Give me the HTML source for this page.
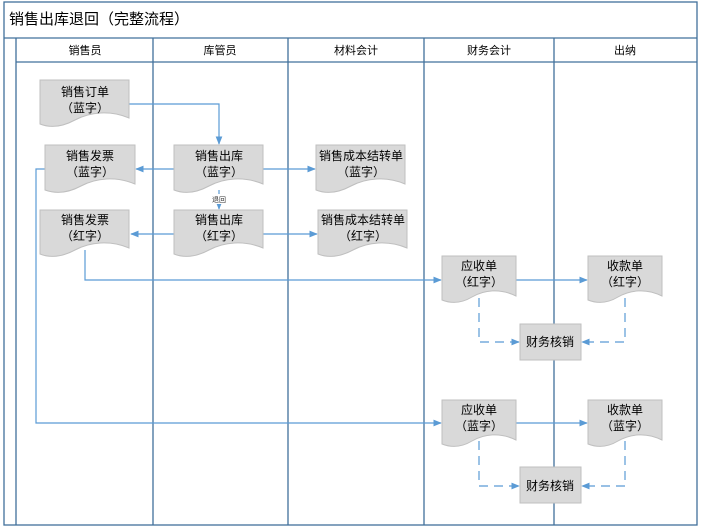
<!DOCTYPE html>
<html><head><meta charset="utf-8"><style>
html,body{margin:0;padding:0;background:#fff;}
svg{display:block;font-family:"Liberation Sans","Noto Sans CJK SC",sans-serif;}
</style></head><body>
<svg width="701" height="531" viewBox="0 0 701 531" xmlns="http://www.w3.org/2000/svg">
<defs>
<marker id="a" viewBox="0 0 10 10" refX="9" refY="5" markerWidth="7" markerHeight="7" orient="auto"><path d="M0,1 L10,5 L0,9 Z" fill="#5b9bd5"/></marker>
</defs>
<rect x="0" y="0" width="701" height="531" fill="#fff"/>
<!-- outer frame -->
<rect x="4" y="2" width="693" height="523" fill="none" stroke="#41719c" stroke-width="1.3"/>
<line x1="4" y1="38" x2="697" y2="38" stroke="#41719c" stroke-width="1.3"/>
<text x="9" y="24" font-size="15" fill="#000">销售出库退回（完整流程）</text>
<line x1="16" y1="38" x2="16" y2="525" stroke="#41719c" stroke-width="1.3"/>
<line x1="16" y1="62" x2="697" y2="62" stroke="#41719c" stroke-width="1.3"/>
<g stroke="#41719c" stroke-width="1.3">
<line x1="153" y1="38" x2="153" y2="525"/>
<line x1="288" y1="38" x2="288" y2="525"/>
<line x1="424" y1="38" x2="424" y2="525"/>
<line x1="554" y1="38" x2="554" y2="525"/>
</g>
<g font-size="11" text-anchor="middle" fill="#000">
<text x="85" y="54">销售员</text>
<text x="220" y="54">库管员</text>
<text x="356" y="54">材料会计</text>
<text x="489" y="54">财务会计</text>
<text x="625" y="54">出纳</text>
</g>
<!-- connectors -->
<g fill="none" stroke="#5b9bd5" stroke-width="1.2">
<polyline points="129,104 219,104 219,144" marker-end="url(#a)"/>
<line x1="174" y1="169" x2="136" y2="169" marker-end="url(#a)"/>
<line x1="263" y1="169" x2="315" y2="169" marker-end="url(#a)"/>
<line x1="219" y1="190" x2="219" y2="209" marker-end="url(#a)"/>
<line x1="174" y1="234" x2="131" y2="234" marker-end="url(#a)"/>
<line x1="263" y1="234" x2="317" y2="234" marker-end="url(#a)"/>
<polyline points="85,250 85,280 441,280" marker-end="url(#a)"/>
<line x1="516" y1="280" x2="587" y2="280" marker-end="url(#a)"/>
<polyline points="45,169 36,169 36,423 441,423" marker-end="url(#a)"/>
<line x1="516" y1="423" x2="587" y2="423" marker-end="url(#a)"/>
<g stroke-dasharray="9,6">
<polyline points="479,298 479,342 519,342" marker-end="url(#a)"/>
<polyline points="625,298 625,342 582,342" marker-end="url(#a)"/>
<polyline points="479,441 479,486 519,486" marker-end="url(#a)"/>
<polyline points="625,441 625,486 582,486" marker-end="url(#a)"/>
</g>
</g>
<rect x="210" y="194" width="18" height="10" fill="#fff"/>
<text x="219" y="202" font-size="7" text-anchor="middle" fill="#333">退回</text>
<!-- documents -->
<g fill="#d9d9d9" stroke="#bfbfbf" stroke-width="1">
<path d="M40,80 H129 V118 C110,110 90,112 75,120 C62,127 50,128 40,124 Z"/>
<path d="M45,145 H135 V184 C116,176 96,178 81,186 C68,193 56,194 45,190 Z"/>
<path d="M174,145 H263 V184 C244,176 224,178 209,186 C196,193 184,194 174,190 Z"/>
<path d="M316,145 H405 V184 C386,176 366,178 351,186 C338,193 326,194 316,190 Z"/>
<path d="M40,210 H129 V248 C110,240 90,242 75,250 C62,257 50,258 40,254 Z"/>
<path d="M174,210 H263 V248 C244,240 224,242 209,250 C196,257 184,258 174,254 Z"/>
<path d="M318,210 H407 V248 C388,240 368,242 353,250 C340,257 328,258 318,254 Z"/>
<path d="M442,256 H516 V296 C500,288 484,290 472,297 C462,303 452,304 442,300 Z"/>
<path d="M588,256 H662 V296 C646,288 630,290 618,297 C608,303 598,304 588,300 Z"/>
<path d="M442,400 H516 V440 C500,432 484,434 472,441 C462,447 452,448 442,444 Z"/>
<path d="M588,400 H662 V440 C646,432 630,434 618,441 C608,447 598,448 588,444 Z"/>
<rect x="520" y="324" width="61" height="36"/>
<rect x="520" y="467" width="61" height="36"/>
</g>
<g font-size="12" text-anchor="middle" fill="#000">
<text x="85" y="96">销售订单</text><text x="85" y="112">（蓝字）</text>
<text x="90" y="160">销售发票</text><text x="90" y="176">（蓝字）</text>
<text x="219" y="160">销售出库</text><text x="219" y="176">（蓝字）</text>
<text x="361" y="160">销售成本结转单</text><text x="361" y="176">（蓝字）</text>
<text x="85" y="224">销售发票</text><text x="85" y="240">（红字）</text>
<text x="219" y="224">销售出库</text><text x="219" y="240">（红字）</text>
<text x="363" y="224">销售成本结转单</text><text x="363" y="240">（红字）</text>
<text x="479" y="270">应收单</text><text x="479" y="286">（红字）</text>
<text x="625" y="270">收款单</text><text x="625" y="286">（红字）</text>
<text x="479" y="414">应收单</text><text x="479" y="430">（蓝字）</text>
<text x="625" y="414">收款单</text><text x="625" y="430">（蓝字）</text>
<text x="550" y="346">财务核销</text>
<text x="550" y="490">财务核销</text>
</g>
</svg>
</body></html>
